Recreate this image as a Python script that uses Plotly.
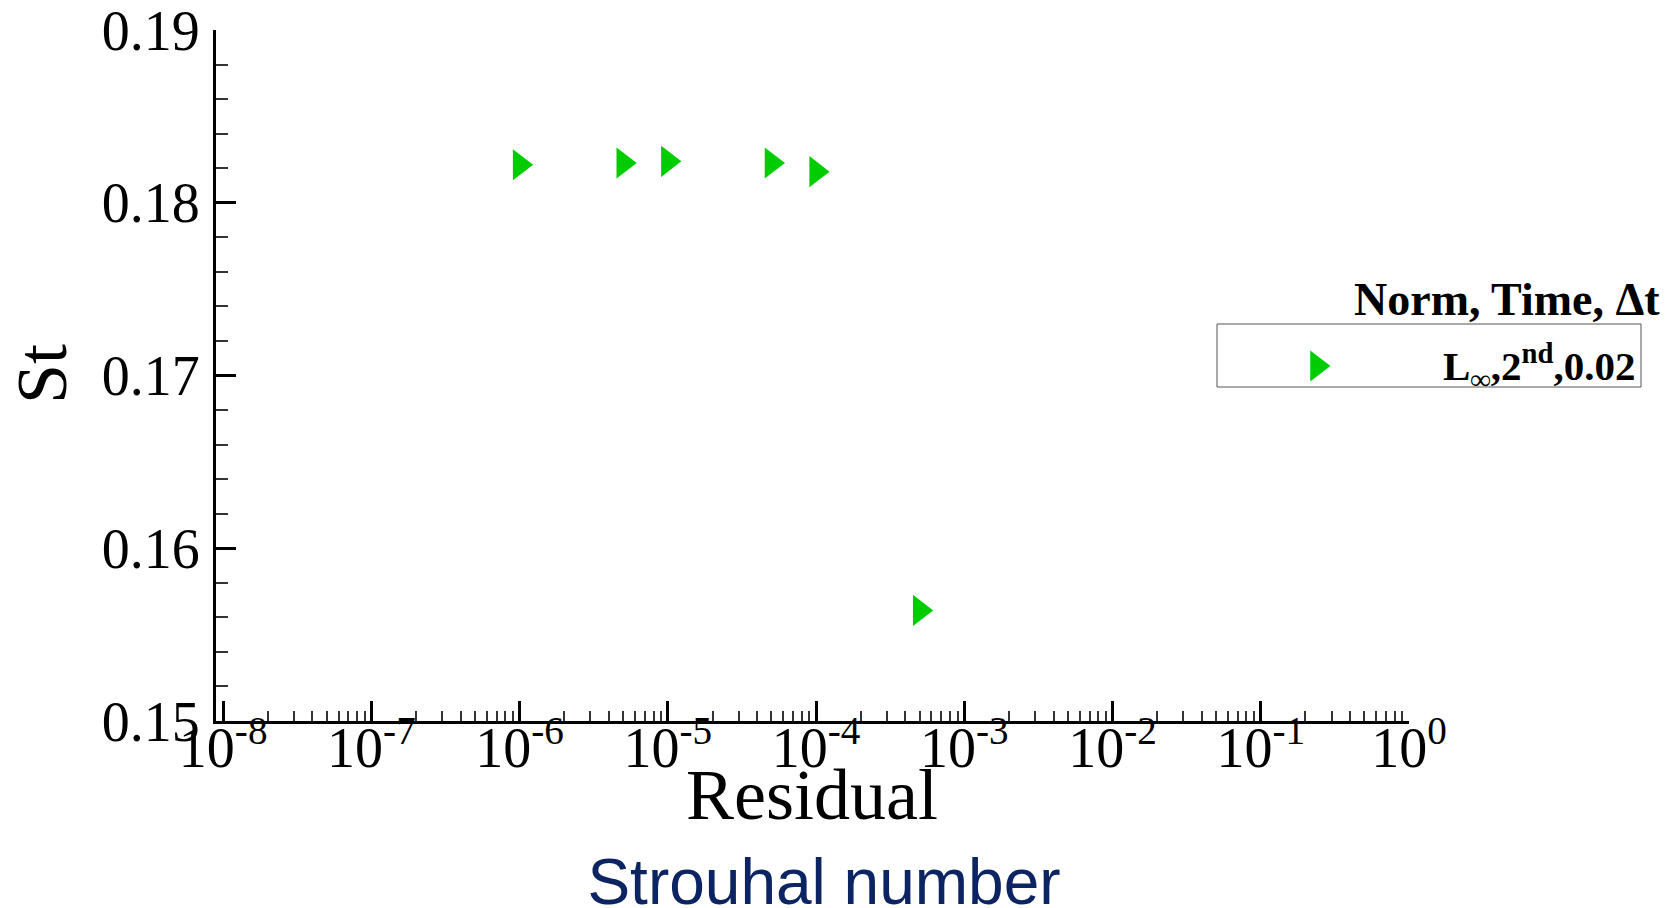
import plotly.graph_objects as go

# Strouhal number vs. convergence residual
residual = [1e-6, 5e-6, 1e-5, 5e-5, 1e-4, 5e-4]
strouhal = [0.1822, 0.1823, 0.1824, 0.1823, 0.1818, 0.1564]

x_tick_vals = [1e-8, 1e-7, 1e-6, 1e-5, 1e-4, 1e-3, 1e-2, 1e-1, 1e0]
x_tick_text = ["10<sup>-8</sup>", "10<sup>-7</sup>", "10<sup>-6</sup>", "10<sup>-5</sup>",
               "10<sup>-4</sup>", "10<sup>-3</sup>", "10<sup>-2</sup>", "10<sup>-1</sup>",
               "10<sup>0</sup>"]

series_name = "<b>L<sub>∞</sub>,2<sup>nd</sup>,0.02</b>"
legend_title = "<b>Norm, Time, Δt</b>"

W, H = 1675, 908
L, R, T, B = 216, 1409, 30, 721  # plot-area edges in px
PW, PH = R - L, B - T


def px(x):
    return (x - L) / PW


def py(y):
    return (B - y) / PH


SERIF = "Liberation Serif, Times New Roman, serif"
GREEN = "#00CC00"

# minor log ticks (2..9 per decade)
minor_vals = [m * 10.0 ** e for e in range(-8, 0) for m in range(2, 10)]

fig = go.Figure()

fig.add_trace(go.Scatter(
    x=residual, y=strouhal, mode="markers",
    marker=dict(symbol="triangle-right", size=27, color=GREEN, line=dict(width=0)),
    showlegend=False, cliponaxis=False,
))

# legend key marker on a hidden unit overlay
fig.add_trace(go.Scatter(
    x=[px(1317)], y=[py(366)], mode="markers", xaxis="x2", yaxis="y2",
    marker=dict(symbol="triangle-right", size=27, color=GREEN, line=dict(width=0)),
    showlegend=False, hoverinfo="skip", cliponaxis=False,
))

fig.update_layout(
    width=W, height=H,
    margin=dict(l=L, r=W - R, t=T, b=H - B, pad=0, autoexpand=False),
    paper_bgcolor="white", plot_bgcolor="white",
    showlegend=False,
    title=dict(text="Strouhal number", x=824 / W, xanchor="center",
               y=1 - 882 / H, yanchor="middle", yref="container",
               font=dict(family="Liberation Sans, Arial, sans-serif", size=64, color="#0c2461")),
    xaxis=dict(
        type="log", range=[-8.0486, 0], automargin=False,
        showline=True, linewidth=3, linecolor="black", mirror=False,
        showgrid=False, zeroline=False,
        ticks="inside", ticklen=20, tickwidth=3, tickcolor="black",
        tickvals=x_tick_vals, ticktext=x_tick_text, ticklabelstandoff=-24,
        ticklabeloverflow="allow",
        tickfont=dict(family=SERIF, size=56, color="black"),
        minor=dict(ticks="inside", ticklen=10, tickwidth=1.5, tickcolor="#333",
                   tickvals=minor_vals, showgrid=False),
    ),
    yaxis=dict(
        range=[0.15, 0.19], dtick=0.01, tickformat=".2f", automargin=False,
        showline=True, linewidth=3, linecolor="black", mirror=False,
        showgrid=False, zeroline=False,
        ticks="inside", ticklen=20, tickwidth=3, tickcolor="black",
        ticklabelstandoff=2, ticklabeloverflow="allow",
        tickfont=dict(family=SERIF, size=56, color="black"),
        minor=dict(ticks="inside", ticklen=12, tickwidth=1.5, tickcolor="#333",
                   dtick=0.002, showgrid=False),
    ),
    xaxis2=dict(overlaying="x", range=[0, 1], visible=False, automargin=False),
    yaxis2=dict(overlaying="y", range=[0, 1], visible=False, automargin=False),
)

# axis titles
fig.add_annotation(text="Residual", xref="paper", yref="paper",
                   x=px(812), y=py(795), xanchor="center", yanchor="middle",
                   showarrow=False, font=dict(family=SERIF, size=72, color="black"))
fig.add_annotation(text="St", xref="paper", yref="paper", textangle=-90,
                   x=px(42), y=py(374), xanchor="center", yanchor="middle",
                   showarrow=False, font=dict(family=SERIF, size=72, color="black"))

# legend box, title and entry
fig.add_shape(type="rect", xref="paper", yref="paper",
              x0=px(1217), x1=px(1641), y0=py(324), y1=py(387),
              line=dict(color="#555", width=1), fillcolor="rgba(0,0,0,0)")
fig.add_annotation(text=legend_title, xref="paper", yref="paper",
                   x=px(1662), y=py(299), xanchor="right", yanchor="middle",
                   showarrow=False, font=dict(family=SERIF, size=46, color="black"))
fig.add_annotation(text=series_name, xref="paper", yref="paper",
                   x=px(1637), y=py(366), xanchor="right", yanchor="middle",
                   showarrow=False, font=dict(family=SERIF, size=41, color="black"))

fig.write_html("out.html")
